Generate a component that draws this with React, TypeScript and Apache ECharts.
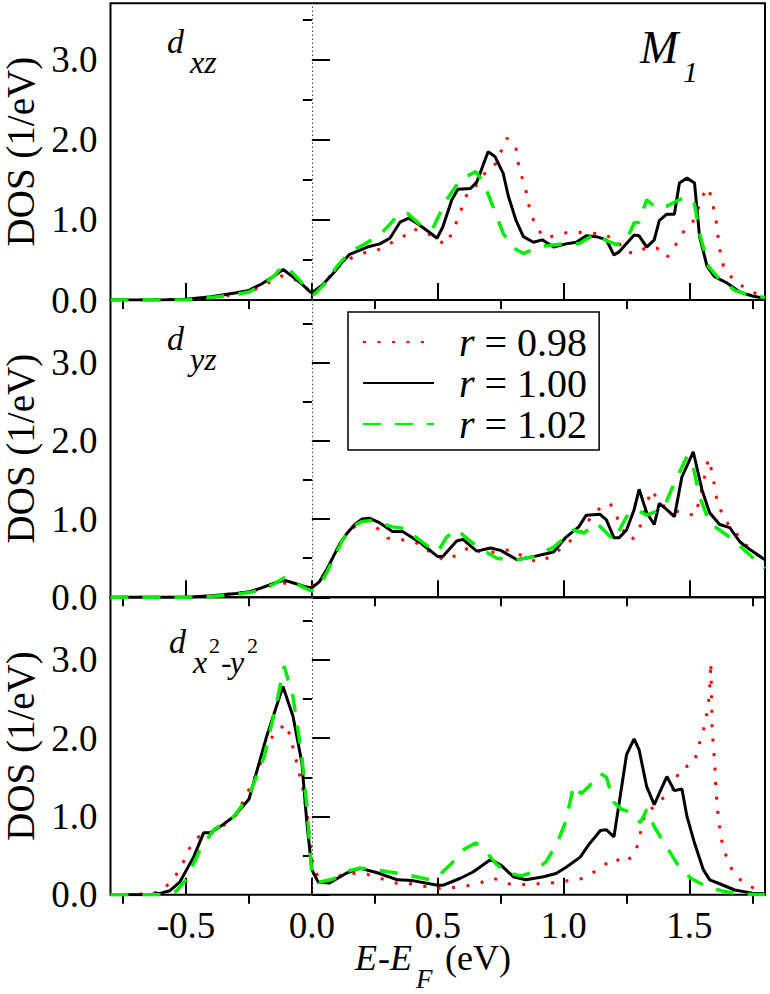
import React, { useEffect, useRef } from "react";
import * as echarts from "echarts";

const seriesNames = ["r = 0.98", "r = 1.00", "r = 1.02"];
const xMajorTicks = [-0.5, 0, 0.5, 1, 1.5];
const xMinorTicks = [-0.75, -0.25, 0.25, 0.75, 1.25, 1.75];
const yMajorTicks = [0, 1, 2, 3];
const yMinorTicks = [0.5, 1.5, 2.5, 3.5];
const panelYMax = [3.7, 3.8, 3.8];
const xMin = -0.8;
const xMax = 1.8;

// panel 1: d_xz
const xzR098 = [[-0.8,0],[-0.5,0.01],[-0.4,0.03],[-0.3,0.07],[-0.25,0.1],[-0.2,0.17],[-0.15,0.25],[-0.12,0.3],[-0.08,0.28],[-0.05,0.22],[-0.01,0.12],[0.02,0.12],[0.06,0.25],[0.09,0.37],[0.13,0.48],[0.18,0.56],[0.22,0.6],[0.26,0.62],[0.3,0.69],[0.36,0.78],[0.4,0.89],[0.46,0.83],[0.53,0.69],[0.56,0.85],[0.58,1.02],[0.62,1.35],[0.66,1.45],[0.695,1.62],[0.73,1.7],[0.775,2.02],[0.81,1.91],[0.82,1.7],[0.835,1.53],[0.85,1.37],[0.86,1.2],[0.88,1.0],[0.9,0.87],[0.93,0.77],[0.99,0.83],[1.05,0.85],[1.1,0.83],[1.15,0.83],[1.21,0.75],[1.245,0.6],[1.29,0.58],[1.33,0.66],[1.37,0.65],[1.41,0.53],[1.44,0.66],[1.48,0.87],[1.52,1.0],[1.55,1.29],[1.575,1.4],[1.59,1.24],[1.6,1.08],[1.61,0.91],[1.615,0.71],[1.635,0.42],[1.675,0.25],[1.73,0.13],[1.78,0.06],[1.8,0.05]];
const xzR100 = [[-0.8,0],[-0.6,0],[-0.5,0.01],[-0.4,0.04],[-0.3,0.09],[-0.25,0.12],[-0.2,0.2],[-0.15,0.3],[-0.114,0.38],[-0.08,0.3],[-0.04,0.2],[-0.01,0.11],[0,0.09],[0.04,0.18],[0.084,0.33],[0.12,0.47],[0.15,0.57],[0.22,0.66],[0.27,0.7],[0.31,0.77],[0.35,0.97],[0.385,1.02],[0.42,0.95],[0.46,0.86],[0.497,0.77],[0.52,0.91],[0.556,1.25],[0.58,1.38],[0.63,1.39],[0.655,1.47],[0.7,1.85],[0.727,1.79],[0.76,1.58],[0.78,1.3],[0.81,1.0],[0.84,0.79],[0.88,0.72],[0.915,0.75],[0.96,0.66],[1.01,0.7],[1.05,0.72],[1.09,0.8],[1.13,0.79],[1.17,0.75],[1.2,0.56],[1.22,0.6],[1.28,0.81],[1.3,0.8],[1.33,0.66],[1.36,0.75],[1.38,0.99],[1.41,1.07],[1.44,1.07],[1.46,1.46],[1.49,1.52],[1.52,1.46],[1.54,0.79],[1.57,0.42],[1.6,0.29],[1.65,0.21],[1.7,0.1],[1.75,0.05],[1.8,0.02]];
const xzR102 = [[-0.8,0],[-0.5,0],[-0.4,0.03],[-0.3,0.07],[-0.25,0.1],[-0.2,0.18],[-0.15,0.3],[-0.115,0.43],[-0.09,0.38],[-0.05,0.25],[-0.01,0.1],[0.01,0.07],[0.05,0.2],[0.1,0.42],[0.15,0.6],[0.2,0.68],[0.27,0.81],[0.32,0.98],[0.35,1.08],[0.38,1.08],[0.44,0.91],[0.48,0.89],[0.535,1.25],[0.59,1.5],[0.65,1.6],[0.68,1.48],[0.72,1.16],[0.76,0.83],[0.8,0.65],[0.84,0.58],[0.91,0.67],[0.97,0.69],[1.02,0.71],[1.06,0.7],[1.13,0.83],[1.17,0.74],[1.21,0.69],[1.25,0.75],[1.28,0.96],[1.3,0.97],[1.33,1.25],[1.37,1.14],[1.41,1.17],[1.46,1.25],[1.49,1.29],[1.52,1.2],[1.54,0.83],[1.575,0.42],[1.61,0.29],[1.68,0.12],[1.73,0.07],[1.8,0.03]];

// panel 2: d_yz
const yzR098 = [[-0.8,0],[-0.5,0],[-0.4,0.02],[-0.3,0.05],[-0.25,0.07],[-0.2,0.11],[-0.15,0.16],[-0.11,0.18],[-0.07,0.17],[-0.03,0.15],[0,0.14],[0.03,0.2],[0.06,0.35],[0.09,0.55],[0.12,0.72],[0.15,0.85],[0.2,0.98],[0.23,0.98],[0.27,0.85],[0.3,0.76],[0.32,0.74],[0.38,0.73],[0.43,0.68],[0.48,0.55],[0.53,0.47],[0.575,0.54],[0.63,0.65],[0.68,0.56],[0.73,0.58],[0.79,0.61],[0.84,0.52],[0.895,0.45],[0.95,0.52],[1.03,0.73],[1.08,0.86],[1.105,1.01],[1.145,1.14],[1.185,1.2],[1.21,1.04],[1.23,0.88],[1.27,0.73],[1.3,0.86],[1.33,1.2],[1.35,1.37],[1.37,1.27],[1.4,1.16],[1.44,1.1],[1.48,1.09],[1.52,1.04],[1.54,1.24],[1.56,1.54],[1.575,1.77],[1.59,1.6],[1.61,1.22],[1.64,0.99],[1.675,0.86],[1.715,0.7],[1.755,0.57],[1.8,0.48]];
const yzR100 = [[-0.8,0],[-0.5,0],[-0.4,0.02],[-0.3,0.05],[-0.25,0.07],[-0.2,0.12],[-0.15,0.18],[-0.11,0.22],[-0.07,0.18],[-0.03,0.14],[0,0.12],[0.03,0.2],[0.06,0.36],[0.085,0.52],[0.11,0.68],[0.14,0.82],[0.17,0.93],[0.2,1.0],[0.23,1.01],[0.27,0.95],[0.32,0.84],[0.36,0.84],[0.43,0.7],[0.5,0.52],[0.52,0.52],[0.575,0.72],[0.6,0.74],[0.655,0.59],[0.71,0.63],[0.75,0.6],[0.815,0.48],[0.88,0.52],[0.96,0.58],[1.01,0.77],[1.06,0.9],[1.09,1.05],[1.145,1.06],[1.17,0.99],[1.2,0.76],[1.22,0.76],[1.25,0.86],[1.28,1.12],[1.3,1.38],[1.33,1.08],[1.36,0.93],[1.38,1.2],[1.41,1.12],[1.44,1.03],[1.47,1.54],[1.515,1.86],[1.55,1.37],[1.58,1.08],[1.62,0.93],[1.66,0.89],[1.7,0.71],[1.74,0.61],[1.8,0.48]];
const yzR102 = [[-0.8,0],[-0.5,0],[-0.4,0.01],[-0.3,0.04],[-0.25,0.06],[-0.2,0.1],[-0.15,0.17],[-0.11,0.25],[-0.07,0.19],[-0.03,0.12],[0,0.08],[0.03,0.15],[0.06,0.32],[0.09,0.52],[0.12,0.72],[0.16,0.9],[0.2,0.97],[0.23,0.98],[0.27,0.95],[0.32,0.9],[0.37,0.88],[0.42,0.75],[0.47,0.63],[0.5,0.58],[0.535,0.77],[0.575,0.87],[0.62,0.74],[0.67,0.62],[0.735,0.5],[0.8,0.47],[0.88,0.52],[0.96,0.64],[1.04,0.86],[1.08,0.82],[1.13,0.95],[1.2,0.73],[1.25,1.03],[1.29,1.12],[1.33,1.05],[1.37,1.1],[1.4,1.16],[1.44,1.46],[1.49,1.8],[1.51,1.74],[1.54,1.29],[1.58,0.95],[1.62,0.86],[1.675,0.73],[1.73,0.57],[1.8,0.37]];

// panel 3: d_x2-y2
const x2R098 = [[-0.8,0],[-0.65,0.01],[-0.6,0.04],[-0.58,0.1],[-0.54,0.25],[-0.51,0.42],[-0.485,0.6],[-0.45,0.74],[-0.41,0.76],[-0.36,0.86],[-0.3,1.02],[-0.23,1.47],[-0.17,1.96],[-0.135,2.11],[-0.1,2.18],[-0.07,1.82],[-0.035,1.34],[-0.015,0.92],[0.005,0.36],[0.03,0.2],[0.07,0.15],[0.13,0.28],[0.22,0.26],[0.33,0.15],[0.375,0.15],[0.44,0.11],[0.51,0.08],[0.6,0.1],[0.668,0.15],[0.72,0.21],[0.8,0.12],[0.88,0.14],[0.93,0.14],[0.99,0.17],[1.06,0.19],[1.105,0.26],[1.15,0.35],[1.2,0.47],[1.24,0.4],[1.285,0.53],[1.3,0.72],[1.325,1.06],[1.36,1.12],[1.4,1.25],[1.43,1.3],[1.46,1.6],[1.49,1.64],[1.52,1.69],[1.535,1.9],[1.55,2.02],[1.565,2.24],[1.575,2.43],[1.58,2.62],[1.585,2.97],[1.59,2.11],[1.6,1.69],[1.605,1.34],[1.615,0.96],[1.63,0.66],[1.65,0.45],[1.675,0.28],[1.715,0.15],[1.77,0.06],[1.8,0.04]];
const x2R100 = [[-0.8,0],[-0.65,0],[-0.6,0.02],[-0.565,0.05],[-0.525,0.16],[-0.47,0.48],[-0.43,0.79],[-0.405,0.79],[-0.36,0.88],[-0.31,1.0],[-0.25,1.22],[-0.18,2.02],[-0.115,2.66],[-0.075,2.28],[-0.04,1.69],[-0.02,0.92],[0,0.32],[0.025,0.16],[0.07,0.15],[0.14,0.28],[0.19,0.34],[0.26,0.28],[0.34,0.19],[0.4,0.18],[0.5,0.12],[0.52,0.12],[0.59,0.21],[0.64,0.29],[0.71,0.45],[0.75,0.38],[0.8,0.23],[0.85,0.19],[0.92,0.23],[0.97,0.27],[1.01,0.35],[1.066,0.48],[1.1,0.64],[1.146,0.82],[1.17,0.83],[1.2,0.74],[1.225,1.26],[1.25,1.79],[1.28,1.99],[1.3,1.85],[1.33,1.38],[1.36,1.15],[1.41,1.51],[1.44,1.33],[1.47,1.35],[1.49,1.0],[1.52,0.66],[1.555,0.32],[1.58,0.19],[1.62,0.14],[1.68,0.06],[1.75,0.02],[1.8,0.01]];
const x2R102 = [[-0.8,0],[-0.6,0],[-0.54,0.04],[-0.5,0.19],[-0.445,0.57],[-0.39,0.83],[-0.31,1.0],[-0.25,1.26],[-0.19,1.76],[-0.14,2.45],[-0.11,2.92],[-0.075,2.53],[-0.04,1.77],[-0.02,1.13],[0,0.25],[0.03,0.16],[0.085,0.2],[0.14,0.3],[0.19,0.34],[0.27,0.31],[0.35,0.27],[0.4,0.24],[0.47,0.19],[0.5,0.23],[0.555,0.4],[0.6,0.57],[0.65,0.66],[0.685,0.58],[0.73,0.4],[0.775,0.28],[0.83,0.24],[0.88,0.29],[0.93,0.42],[0.975,0.66],[1.01,0.95],[1.04,1.4],[1.07,1.29],[1.105,1.4],[1.145,1.55],[1.17,1.5],[1.2,1.18],[1.23,1.09],[1.27,1.05],[1.305,0.92],[1.33,1.09],[1.36,0.87],[1.4,0.66],[1.45,0.4],[1.505,0.21],[1.57,0.1],[1.64,0.04],[1.7,0.01],[1.8,0]];

const panelData = [
  [xzR098, xzR100, xzR102],
  [yzR098, yzR100, yzR102],
  [x2R098, x2R100, x2R102],
];

const FONT = "Liberation Serif";
const RED = "#ff0000";
const GREEN = "#00ee00";

const lineStyles = [
  { color: RED, width: 3, type: [3, 11.5] as any, cap: "butt" },
  { color: "#000000", width: 3, type: "solid" },
  { color: GREEN, width: 3.5, type: [18, 14] as any, cap: "butt" },
];

const GRID_LEFT = 110.5;
const GRID_W = 654.5;
const gridTops = [3.3, 300, 597.3];
const gridHeights = [296.7, 297.3, 297.4];

function plainText(x: number, y: number, text: string, size: number, italic: boolean) {
  return {
    type: "text",
    x,
    y,
    style: {
      text,
      fontFamily: FONT,
      fontSize: size,
      fontStyle: italic ? "italic" : "normal",
      fill: "#000",
      align: "left",
      verticalAlign: "middle",
    },
  };
}

function buildOption() {
  const grids = gridTops.map((t, i) => ({
    left: GRID_LEFT,
    top: t,
    width: GRID_W,
    height: gridHeights[i],
    show: true,
    borderColor: "#000",
    borderWidth: 2,
    backgroundColor: "transparent",
    containLabel: false,
    outerBoundsMode: "none",
  }));

  const xAxes: any[] = [];
  const yAxes: any[] = [];
  for (let p = 0; p < 3; p++) {
    xAxes.push({
      type: "value",
      gridIndex: p,
      min: xMin,
      max: xMax,
      axisLine: { show: false },
      splitLine: { show: false },
      axisTick: {
        show: true,
        inside: true,
        length: 17,
        customValues: xMajorTicks,
        lineStyle: { color: "#000", width: 2 },
      },
      axisLabel: {
        show: p === 2,
        customValues: xMajorTicks,
        formatter: (v: number) => v.toFixed(1),
        fontFamily: FONT,
        fontSize: 37,
        color: "#000",
        margin: 12,
      },
    });
    xAxes.push({
      type: "value",
      gridIndex: p,
      min: xMin,
      max: xMax,
      axisLine: { show: false },
      splitLine: { show: false },
      axisTick: {
        show: true,
        inside: true,
        length: 9,
        customValues: xMinorTicks,
        lineStyle: { color: "#000", width: 2 },
      },
      axisLabel: { show: false },
    });
    yAxes.push({
      type: "value",
      gridIndex: p,
      min: 0,
      max: panelYMax[p],
      name: "DOS (1/eV)",
      nameLocation: "middle",
      nameRotate: 90,
      nameGap: 66,
      nameTextStyle: { fontFamily: FONT, fontSize: 39, lineHeight: 34, color: "#000" },
      axisLine: { show: false },
      splitLine: { show: false },
      axisTick: {
        show: true,
        inside: true,
        length: 18,
        customValues: yMajorTicks,
        lineStyle: { color: "#000", width: 2 },
      },
      axisLabel: {
        show: true,
        customValues: yMajorTicks,
        formatter: (v: number) => v.toFixed(1),
        fontFamily: FONT,
        fontSize: 37,
        color: "#000",
        margin: 13,
      },
    });
    yAxes.push({
      type: "value",
      gridIndex: p,
      min: 0,
      max: panelYMax[p],
      axisLine: { show: false },
      splitLine: { show: false },
      axisTick: {
        show: true,
        inside: true,
        length: 9,
        customValues: yMinorTicks,
        lineStyle: { color: "#000", width: 2 },
      },
      axisLabel: { show: false },
    });
  }

  const series: any[] = [];
  for (let p = 0; p < 3; p++) {
    for (let s = 0; s < 3; s++) {
      const item: any = {
        type: "line",
        name: seriesNames[s],
        xAxisIndex: p * 2,
        yAxisIndex: p * 2,
        data: panelData[p][s],
        symbol: "none",
        showSymbol: false,
        smooth: false,
        clip: true,
        lineStyle: lineStyles[s],
        itemStyle: { color: lineStyles[s].color },
        z: 3 + s,
      };
      if (s === 1) {
        item.markLine = {
          silent: true,
          symbol: ["none", "none"],
          label: { show: false },
          lineStyle: { color: "#444", width: 1, type: [1.5, 2.5] },
          data: [{ xAxis: 0 }],
          z: 1,
        };
      }
      series.push(item);
    }
  }

  const graphic: any[] = [
    plainText(167, 41, "d", 34, true),
    plainText(190, 62, "xz", 32, true),
    plainText(167, 338, "d", 34, true),
    plainText(190, 359, "yz", 32, true),
    plainText(169, 641, "d", 34, true),
    plainText(193, 662, "x", 32, true),
    plainText(209, 645, "2", 22, false),
    plainText(221, 662, "-", 32, false),
    plainText(230, 662, "y", 32, true),
    plainText(247, 645, "2", 22, false),
    plainText(640, 47, "M", 46, true),
    plainText(683, 71, "1", 30, true),
    plainText(355, 958, "E", 36, true),
    plainText(378, 958, "-", 36, false),
    plainText(390, 958, "E", 36, true),
    plainText(416, 979, "F", 27, true),
    plainText(445, 958, "(eV)", 36, false),
  ];

  return {
    animation: false,
    backgroundColor: "#fff",
    textStyle: { fontFamily: FONT },
    grid: grids,
    xAxis: xAxes,
    yAxis: yAxes,
    series,
    legend: {
      data: seriesNames,
      orient: "vertical",
      left: 348,
      top: 312,
      padding: [10, 12, 6, 14],
      itemWidth: 71,
      itemHeight: 14,
      itemGap: 1,
      borderColor: "#000",
      borderWidth: 1.5,
      backgroundColor: "#fff",
      selectedMode: false,
      itemStyle: { opacity: 0 },
      formatter: (name: string) => "{i|r}" + name.slice(1),
      textStyle: {
        fontFamily: FONT,
        fontSize: 40,
        color: "#000",
        lineHeight: 37,
        padding: [0, 0, 0, 20],
        rich: { i: { fontFamily: FONT, fontStyle: "italic", fontSize: 40, lineHeight: 37 } },
      },
    },
    graphic,
  };
}

export default function App() {
  const ref = useRef<HTMLDivElement>(null);
  useEffect(() => {
    if (!ref.current) return;
    const chart = echarts.init(ref.current, undefined, { renderer: "svg" });
    chart.setOption(buildOption() as any);
    return () => chart.dispose();
  }, []);
  return <div ref={ref} style={{ width: 770, height: 994, position: "absolute", left: 0, top: 0 }} />;
}
